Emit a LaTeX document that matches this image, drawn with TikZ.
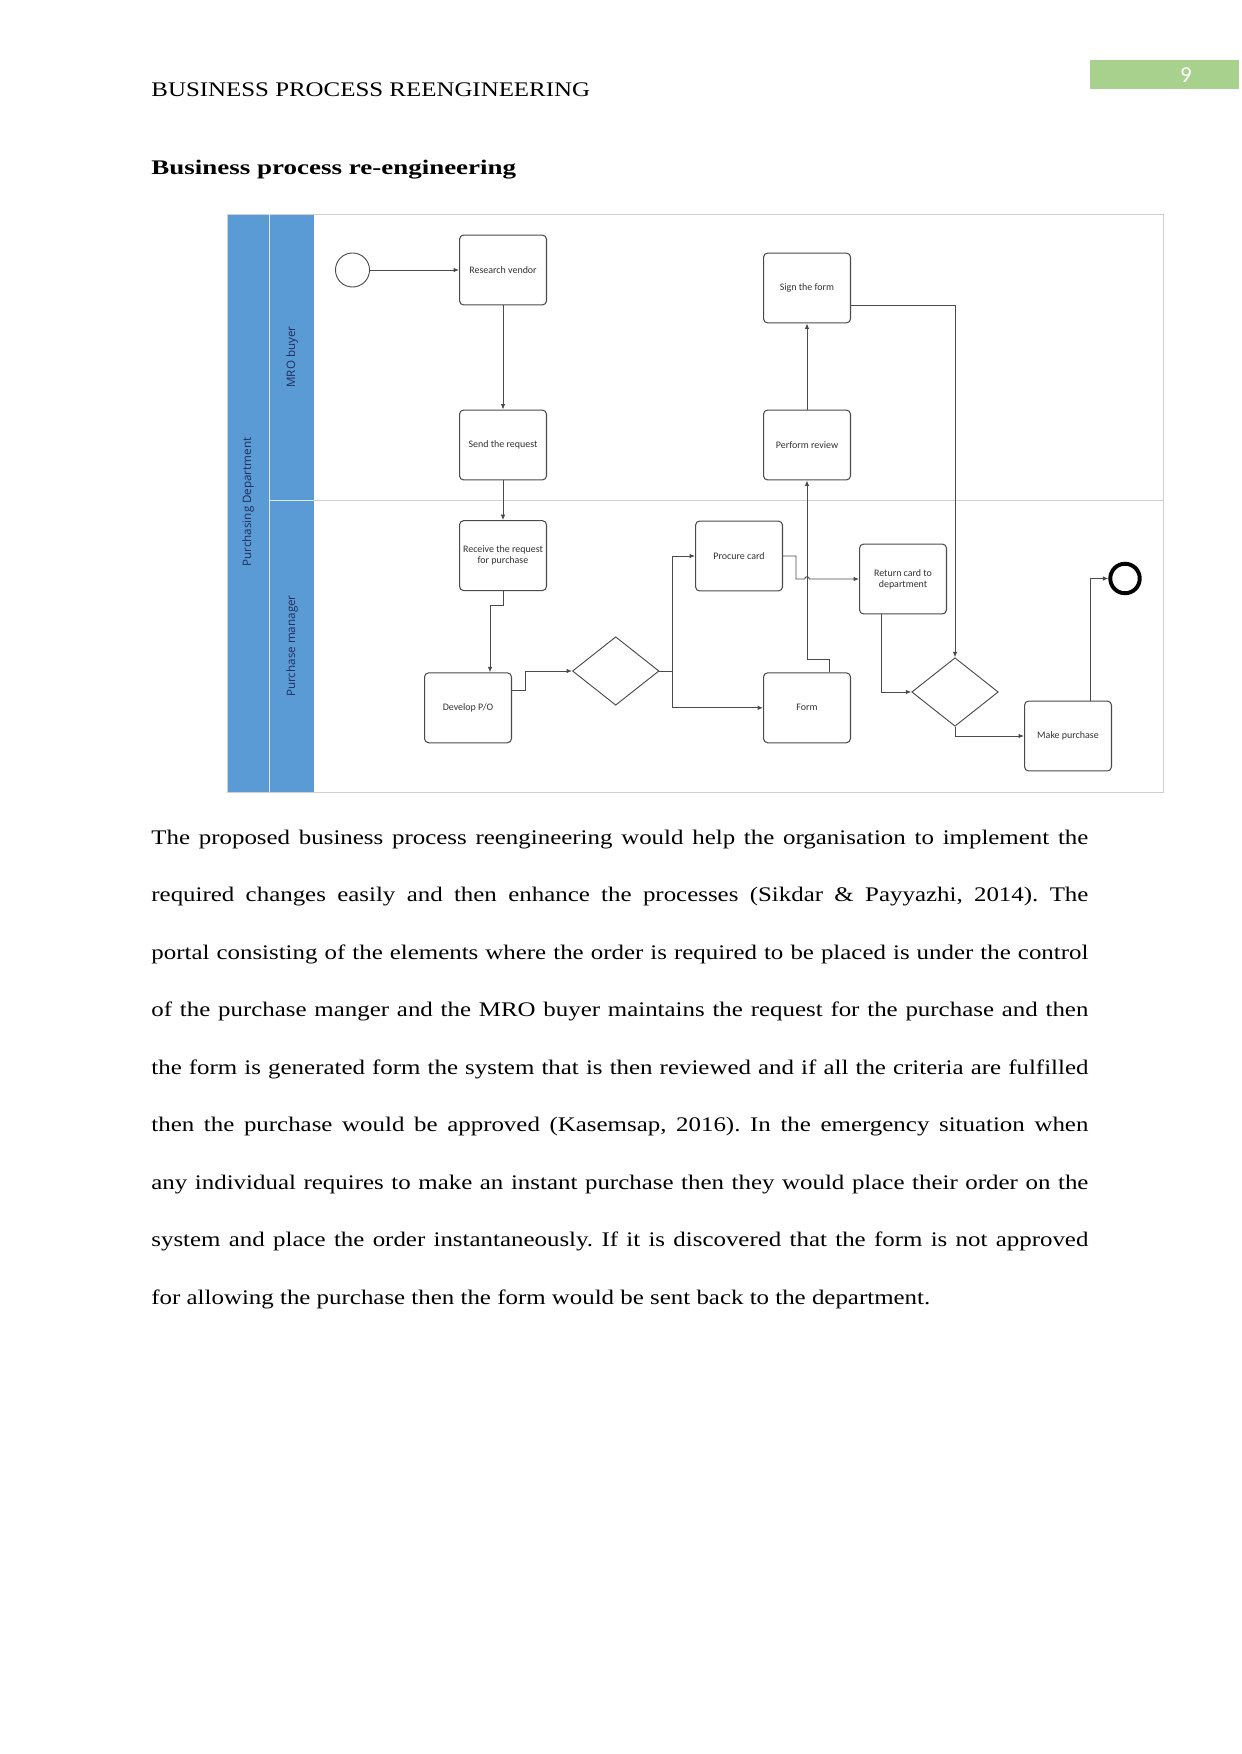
\documentclass[tikz,border=0pt]{standalone}
\usepackage{graphicx}
\usepackage{fontspec}
\setmainfont{Liberation Serif}
\newfontfamily\boxfont{Carlito}
\newfontfamily\lanefont{Open Sans}
\usetikzlibrary{arrows.meta,calc,shapes.geometric}
\definecolor{lane}{HTML}{5B9BD5}
\definecolor{laneink}{HTML}{1F2D5A}
\definecolor{frame}{HTML}{D0D0D0}
\definecolor{ink}{HTML}{4A4A4A}
\definecolor{tag}{HTML}{A9D18E}
\frenchspacing

\begin{document}
\begin{tikzpicture}[x=0.4818pt,y=-0.4818pt,>={Latex[length=2.6pt,width=2.2pt]},
  task/.style={draw=ink,line width=0.5pt,rounded corners=2pt,minimum width=41.9pt,minimum height=33.7pt,inner sep=0pt,align=center,font=\boxfont\fontsize{4.8}{5.4}\selectfont,text=black!80},
  gate/.style={diamond,draw=ink,line width=0.45pt,minimum width=41.7pt,minimum height=33pt,inner sep=0pt},
  flow/.style={->,draw=ink,line width=0.45pt},
  lanelabel/.style={rotate=90,font=\lanefont\fontsize{5.6}{6}\selectfont,text=laneink}]
\useasboundingbox (0,0) rectangle (1241,1754);
\fill[white] (0,0) rectangle (1241,1754);

% page head
\fill[tag] (1090,60) rectangle (1239,89);
\node[text=white,font=\fontspec{Carlito}\fontsize{11}{13}\selectfont] (pagenum) at (1186,75.5) {9};
\node[anchor=base west,inner sep=0] (head) at (151,96.5) {\scalebox{1.2}[1]{BUSINESS PROCESS REENGINEERING}};
\node[anchor=base west,inner sep=0,font=\bfseries] (title) at (151,175) {\scalebox{1.3}[1]{Business process re-engineering}};

% pool and lanes
\fill[lane] (227,214) rectangle (313.5,792);
\draw[frame] (227,214) rectangle (1163,792);
\draw[white!80!lane] (269,214) -- (269,792);
\draw[white!80!lane] (269,500) -- (313.5,500);
\draw[frame] (313.5,500) -- (1163,500);
\node[lanelabel] (pool) at (248,502) {Purchasing Department};
\node[lanelabel] (buyer) at (292,357) {MRO buyer};
\node[lanelabel] (manager) at (292,646) {Purchase manager};

% events, tasks, gateways
\node[circle,draw=ink,line width=0.45pt,minimum size=16.4pt,inner sep=0pt] (start) at (352.5,270) {};
\node[circle,draw=black,line width=1.9pt,minimum size=14.2pt,inner sep=0pt] (end) at (1125,578.5) {};
\node[task] (rv) at (503,270) {Research vendor};
\node[task] (sr) at (503,445) {Send the request};
\node[task] (rr) at (503,555.6) {Receive the request\\for purchase};
\node[task] (dpo) at (468,707.8) {Develop P/O};
\node[gate] (d1) at (615.7,671) {};
\node[task] (pc) at (739,556) {Procure card};
\node[task] (form) at (807,707.8) {Form};
\node[task] (pr) at (807,445) {Perform review};
\node[task] (sf) at (807,288) {Sign the form};
\node[task] (rc) at (903,579) {Return card to\\department};
\node[gate] (d2) at (955,692) {};
\node[task] (mp) at (1068,736) {Make purchase};

% sequence flows
\draw[flow] (start) -- (rv);
\draw[flow] (rv) -- (sr);
\draw[flow] (sr) -- (rr);
\draw[flow] (rr.south) -- ++(0,14) -| ($(dpo.north)!0.5!(dpo.north east)$);
\draw[flow] ($(dpo.east)!0.5!(dpo.north east)$) -- ++(13,0) |- (d1.west);
\draw[flow] (d1.east) -- ++(13,0) |- (pc.west);
\draw[flow] (d1.east) -- ++(13,0) |- (form.west);
\draw[flow] (pc.east) -- ++(13,0) |- ([xshift=-1.1pt]pr |- rc.west)
  arc[start angle=180,end angle=0,radius=1.1pt] -- (rc.west);
\draw[flow] ($(form.north)!0.5!(form.north east)$) -- ++(0,-13) -| (pr.south);
\draw[flow] (pr) -- (sf);
\draw[flow] ($(sf.east)!0.5!(sf.south east)$) -| (d2.north);
\draw[flow] ($(rc.south)!0.5!(rc.south west)$) |- (d2.west);
\draw[flow] (d2.south) |- (mp.west);
\draw[flow] ($(mp.north)!0.5!(mp.north east)$) |- (end.west);

% body text
\foreach \txt [count=\i] in {
  {The proposed business process reengineering would help the organisation to implement the},
  {required changes easily and then enhance the processes (Sikdar \& Payyazhi, 2014). The},
  {portal consisting of the elements where the order is required to be placed is under the control},
  {of the purchase manger and the MRO buyer maintains the request for the purchase and then},
  {the form is generated form the system that is then reviewed and if all the criteria are fulfilled},
  {then the purchase would be approved (Kasemsap, 2016). In the emergency situation when},
  {any individual requires to make an instant purchase then they would place their order on the},
  {system and place the order instantaneously. If it is discovered that the form is not approved}}
  \node[anchor=base west,inner sep=0] (line\i) at (151,{844+57.5*(\i-1)}) {\scalebox{1.2}[1]{\makebox[376.2pt][s]{\txt}}};
\node[anchor=base west,inner sep=0] (line9) at (151,1304) {\scalebox{1.2}[1]{for allowing the purchase then the form would be sent back to the department.}};
\end{tikzpicture}
\end{document}
